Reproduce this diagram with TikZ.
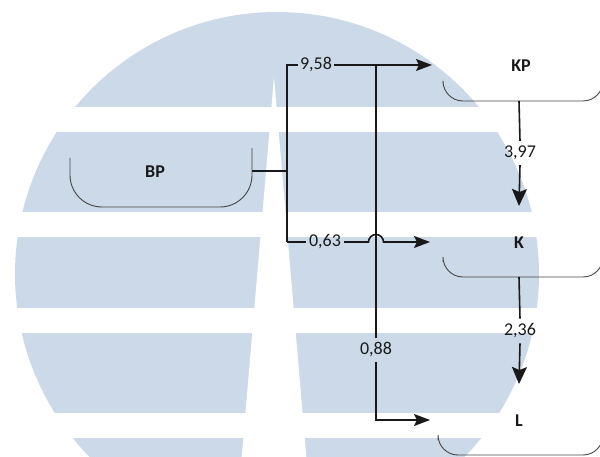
\documentclass[tikz,border=0pt]{standalone}
\usepackage{fontspec}
\setmainfont{Carlito}
\usetikzlibrary{arrows.meta}
\definecolor{wm}{RGB}{204,217,232}
\definecolor{ink}{RGB}{25,25,25}
\definecolor{boxgray}{RGB}{70,70,70}
\begin{document}
\begin{tikzpicture}[x=1pt,y=-1pt,
  lbl/.style={font=\fontsize{18}{20}\selectfont, text=ink, inner sep=1.5pt},
  vlbl/.style={lbl, inner ysep=5pt},
  nodename/.style={font=\fontsize{18}{20}\selectfont\bfseries, text=ink},
  conn/.style={draw=ink, line width=1.6pt},
  harr/.style={conn, -{Stealth[length=16pt,width=12pt,inset=3pt]}},
  varr/.style={conn, -{Stealth[length=17pt,width=15pt,inset=3pt]}},
  boxline/.style={draw=boxgray, line width=0.9pt, rounded corners=20pt}]
\useasboundingbox (0,0) rectangle (600,457);
% watermark
\begin{scope}
  \clip (0,0) rectangle (600,457);
  \fill[wm] (277,274) circle (262pt);
  \fill[white] (0,107) rectangle (600,132);
  \fill[white] (0,212) rectangle (600,237);
  \fill[white] (0,308) rectangle (600,333);
  \fill[white] (0,413) rectangle (600,438);
  \fill[white] (274,77) -- (241.7,457) -- (306.3,457) -- cycle;
\end{scope}
% box outlines
\draw[boxline, rounded corners=32pt] (70,158) -- (70,207) -- (252,207) -- (252,148);
\draw[boxline] (443,84) -- (443,101) -- (603,101) -- (603,70);
\draw[boxline] (443,262) -- (443,277) -- (603,277) -- (603,250);
\draw[boxline] (438,440) -- (438,455) -- (603,455) -- (603,430);
% nodes
\node[nodename] (BP) at (155,172) {BP};
\node[nodename] (KP) at (521,66) {KP};
\node[nodename] (K) at (519,243) {K};
\node[nodename] (L) at (519,421) {L};
% coordinates
\coordinate (BPe) at (252,171);
\coordinate (j) at (287,171);
\coordinate (jt) at (287,65);
\coordinate (jb) at (287,242);
\coordinate (KPin) at (432,65);
\coordinate (Kin) at (430,242);
\coordinate (t) at (376,65);
\coordinate (lb) at (376,420);
\coordinate (Lin) at (430,420);
\coordinate (KPs) at (519,101);
\coordinate (Kn) at (519,206);
\coordinate (Ks) at (519,277);
\coordinate (Ln) at (519,384);
% labels
\node[lbl] (a) at (316,65) {9,58};
\node[lbl, inner xsep=3pt] (b) at (325,242) {0,63};
\node[vlbl] (c) at (376,350) {0,88};
\node[vlbl] (d) at (520,153) {3,97};
\node[vlbl] (e) at (520,331) {2,36};
% connectors
\draw[conn] (BPe) -- (j);
\draw[conn] (jb) -- (jt) -- (a.west);
\draw[harr] (a.east) -- (KPin);
\draw[conn] (jb) -- (b.west);
\draw[harr] (b.east) -- (368.5,242) arc[start angle=180,end angle=0,radius=7.5pt] -- (Kin);
\draw[conn] (t) -- (c.north);
\draw[harr] (c.south) -- (lb) -- (Lin);
\draw[conn] (KPs) -- (d.north);
\draw[varr] (d.south) -- (Kn);
\draw[conn] (Ks) -- (e.north);
\draw[varr] (e.south) -- (Ln);
\end{tikzpicture}
\end{document}
